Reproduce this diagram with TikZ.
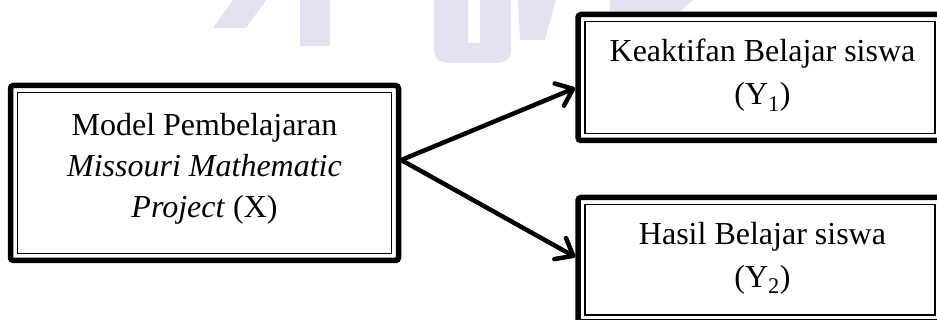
\documentclass[tikz,border=0pt]{standalone}
\usepackage{fontspec}
\setmainfont{Liberation Serif}
\usetikzlibrary{arrows.meta}
\definecolor{wmcol}{RGB}{226,226,240}
\begin{document}
\begin{tikzpicture}[x=1pt,y=-1pt,
  box/.style={draw, line width=5.5pt, rounded corners=3pt, inner sep=0pt, outer sep=2.75pt},
  innerline/.style={draw, line width=1.6pt},
  lbl/.style={font=\fontsize{32}{41}\selectfont, align=center, inner sep=0pt},
  lblr/.style={font=\fontsize{32}{43}\selectfont, align=center, inner sep=0pt},
  conn/.style={line width=4.5pt, -{Straight Barb[length=15pt,width=24pt,round]}},
  wm/.style={fill=wmcol, draw=none}]
\clip (0,0) rectangle (937,320);
% faint watermark
\fill[wm] (233,0) -- (266,0) -- (246,28) -- (213,28) -- cycle;
\fill[wm] (300,0) -- (330,0) -- (330,46) -- (300,46) -- cycle;
\fill[wm] (434,0) -- (468,0) -- (468,43) -- (480,43) -- (480,0) -- (511,0) -- (511,50) .. controls (511,63) and (500,63) .. (490,63) -- (455,63) .. controls (445,63) and (434,63) .. (434,50) -- cycle;
\fill[wm] (518,0) -- (556,0) -- (545,40) -- (520,40) -- cycle;
\fill[wm] (610,0) -- (693,0) -- (680,12) -- (610,12) -- cycle;
% boxes
\node[box, minimum width=388pt, minimum height=175pt] (X) at (204.5,173) {};
\node[box, minimum width=364pt, minimum height=126pt] (Y1) at (760,77.5) {};
\node[box, minimum width=364pt, minimum height=124.5pt] (Y2) at (760,259.75) {};
\draw[innerline] ([xshift=9.75pt,yshift=-9.75pt]X.north west) rectangle ([xshift=-9.75pt,yshift=9.75pt]X.south east);
\draw[innerline] ([xshift=9.75pt,yshift=-9.75pt]Y1.north west) rectangle ([xshift=-9.75pt,yshift=9.75pt]Y1.south east);
\draw[innerline] ([xshift=9.75pt,yshift=-9.75pt]Y2.north west) rectangle ([xshift=-9.75pt,yshift=9.75pt]Y2.south east);
% labels
\node[lbl] (tX) at (204.5,168.5) {Model Pembelajaran\\\textit{Missouri Mathematic}\\\textit{Project} (X)};
\node[lblr] (tY1) at (762.5,75.5) {Keaktifan Belajar siswa\\(Y\textsubscript{1})};
\node[lblr] (tY2) at (762.5,258.5) {Hasil Belajar siswa\\(Y\textsubscript{2})};
% connectors
\coordinate (s) at ([yshift=13pt]X.east);
\draw[conn] (s) -- ([yshift=-10.5pt]Y1.west);
\draw[conn] (s) -- ([yshift=2.75pt]Y2.west);
\end{tikzpicture}
\end{document}
